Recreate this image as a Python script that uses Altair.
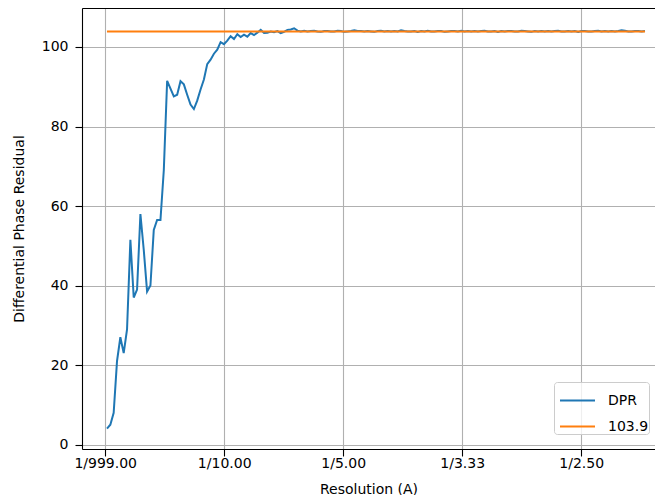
import altair as alt
import pandas as pd

# ---- data ----
FREQ_START = 0.0015      # first sampled spatial frequency (1/A)
FREQ_STEP = 0.002808     # sampling step (1/A)
dpr = [
    4.0, 5.0, 8.0, 21.0, 27.0, 23.0, 29.0, 51.5, 37.0, 39.0,
    58.0, 49.0, 38.5, 40.0, 54.0, 56.5, 56.5, 69.0, 91.5, 89.5,
    87.6, 88.0, 91.4, 90.6, 88.0, 85.5, 84.4, 86.5, 89.3, 91.8,
    95.7, 96.8, 98.3, 99.3, 101.2, 100.7, 101.6, 102.7, 102.0, 103.2,
    102.5, 103.1, 102.6, 103.5, 103.0, 103.6, 104.3, 103.5, 103.6, 103.9,
    103.7, 104.0, 103.5, 103.8, 104.3, 104.4, 104.7, 104.1,
    103.9, 104.1, 103.9, 104.0, 104.1, 103.9, 103.8, 104.0, 104.0, 103.9, 103.9, 104.1, 104.0,
    103.8, 103.9, 104.0, 104.2, 104.0, 104.0, 103.9, 104.0, 103.9, 103.8, 104.0, 104.1, 103.9,
    104.0, 103.9, 104.0, 103.9, 104.2, 104.0, 103.9, 103.9, 104.0, 103.8, 104.0, 103.9, 104.1,
    103.9, 103.9, 104.0, 104.0, 103.8, 103.9, 104.0, 104.0, 103.9, 104.1, 103.9, 104.0, 103.9,
    104.0, 103.9, 104.0, 104.1, 103.9, 103.9, 104.0, 103.8, 104.0, 103.9, 104.0, 104.0, 103.9,
    103.9, 104.1, 104.0, 103.9, 103.8, 104.0, 103.9, 104.0, 103.9, 104.0, 103.9, 104.0, 104.1,
    103.9, 103.9, 104.0, 103.9, 104.0, 103.8, 104.0, 104.0, 103.9, 103.9, 104.0, 104.1, 103.9,
    104.0, 103.9, 104.0, 103.9, 104.0, 104.2, 104.1, 103.9, 103.9, 104.0, 104.0, 103.9, 104.0,
]
THRESHOLD = 103.9
SERIES = ["DPR", "103.9"]
COLORS = ["#1f77b4", "#ff7f0e"]
X_TICKS = [0.0, 0.1, 0.2, 0.3, 0.4]
X_TICK_LABELS = ["1/999.00", "1/10.00", "1/5.00", "1/3.33", "1/2.50"]
Y_TICKS = [0, 20, 40, 60, 80, 100]

freq = [FREQ_START + i * FREQ_STEP for i in range(len(dpr))]
curve = pd.DataFrame({"freq": freq, "value": dpr, "series": SERIES[0]})
thr = pd.DataFrame({"freq": [freq[0], freq[-1]], "value": [THRESHOLD, THRESHOLD],
                    "series": SERIES[1]})

FONT = "DejaVu Sans"
label_expr = "[" + ",".join("'%s'" % s for s in X_TICK_LABELS) + "][round(datum.value*10)]"

xscale = alt.Scale(domain=[-0.0195, 0.462], nice=False, zero=False)
yscale = alt.Scale(domain=[-1.1, 109.8], nice=False, zero=False)
color = alt.Color("series:N", scale=alt.Scale(domain=SERIES, range=COLORS),
                  legend=alt.Legend(title=None))

x_bottom = alt.X("freq:Q", scale=xscale, axis=alt.Axis(
    values=X_TICKS, labelExpr=label_expr, title="Resolution (A)", orient="bottom",
    grid=True, gridColor="#b0b0b0", gridWidth=1.1,
    domainColor="#000000", domainWidth=1.1, tickColor="#000000", tickWidth=1.1,
    tickSize=7, labelPadding=0, labelFontSize=14, labelColor="#000000",
    labelFont=FONT, titleFont=FONT, titleFontSize=14, titleFontWeight="normal",
    titleColor="#000000", titlePadding=12, labelFlush=False))
x_top = alt.X("freq:Q", scale=xscale, axis=alt.Axis(
    orient="top", labels=False, ticks=False, grid=False, title=None,
    domainColor="#000000", domainWidth=1.1))
y_enc = alt.Y("value:Q", scale=yscale, axis=alt.Axis(
    values=Y_TICKS, title="Differential Phase Residual",
    grid=True, gridColor="#b0b0b0", gridWidth=1.1,
    domainColor="#000000", domainWidth=1.1, tickColor="#000000", tickWidth=1.1,
    tickSize=7, labelPadding=7, labelFontSize=14, labelColor="#000000",
    labelFont=FONT, titleFont=FONT, titleFontSize=14, titleFontWeight="normal",
    titleColor="#000000", titlePadding=15))

blue = alt.Chart(curve).mark_line(strokeWidth=2).encode(
    x=x_bottom, y=y_enc, color=color)
orange = alt.Chart(thr).mark_line(strokeWidth=2).encode(
    x=x_top, y=alt.Y("value:Q", scale=yscale), color=color)

chart = alt.layer(blue, orange).resolve_axis(x="independent").properties(
    width=573, height=441,
    autosize=alt.AutoSizeParams(type="none"),
    padding={"left": 74, "top": 0, "right": 0, "bottom": 46},
).configure_view(stroke=None).configure(font=FONT).configure_legend(
    orient="none", legendX=472, legendY=374,
    symbolType="stroke", symbolSize=1225, symbolStrokeWidth=2, symbolOffset=5,
    labelFontSize=14, labelFont=FONT, labelColor="#000000", labelOffset=12,
    padding=0, fillColor="rgba(255,255,255,0.8)", strokeColor="#cccccc",
    cornerRadius=3, rowPadding=-15,
)

chart.save("out.html", embed_options={"renderer": "svg", "actions": False})
